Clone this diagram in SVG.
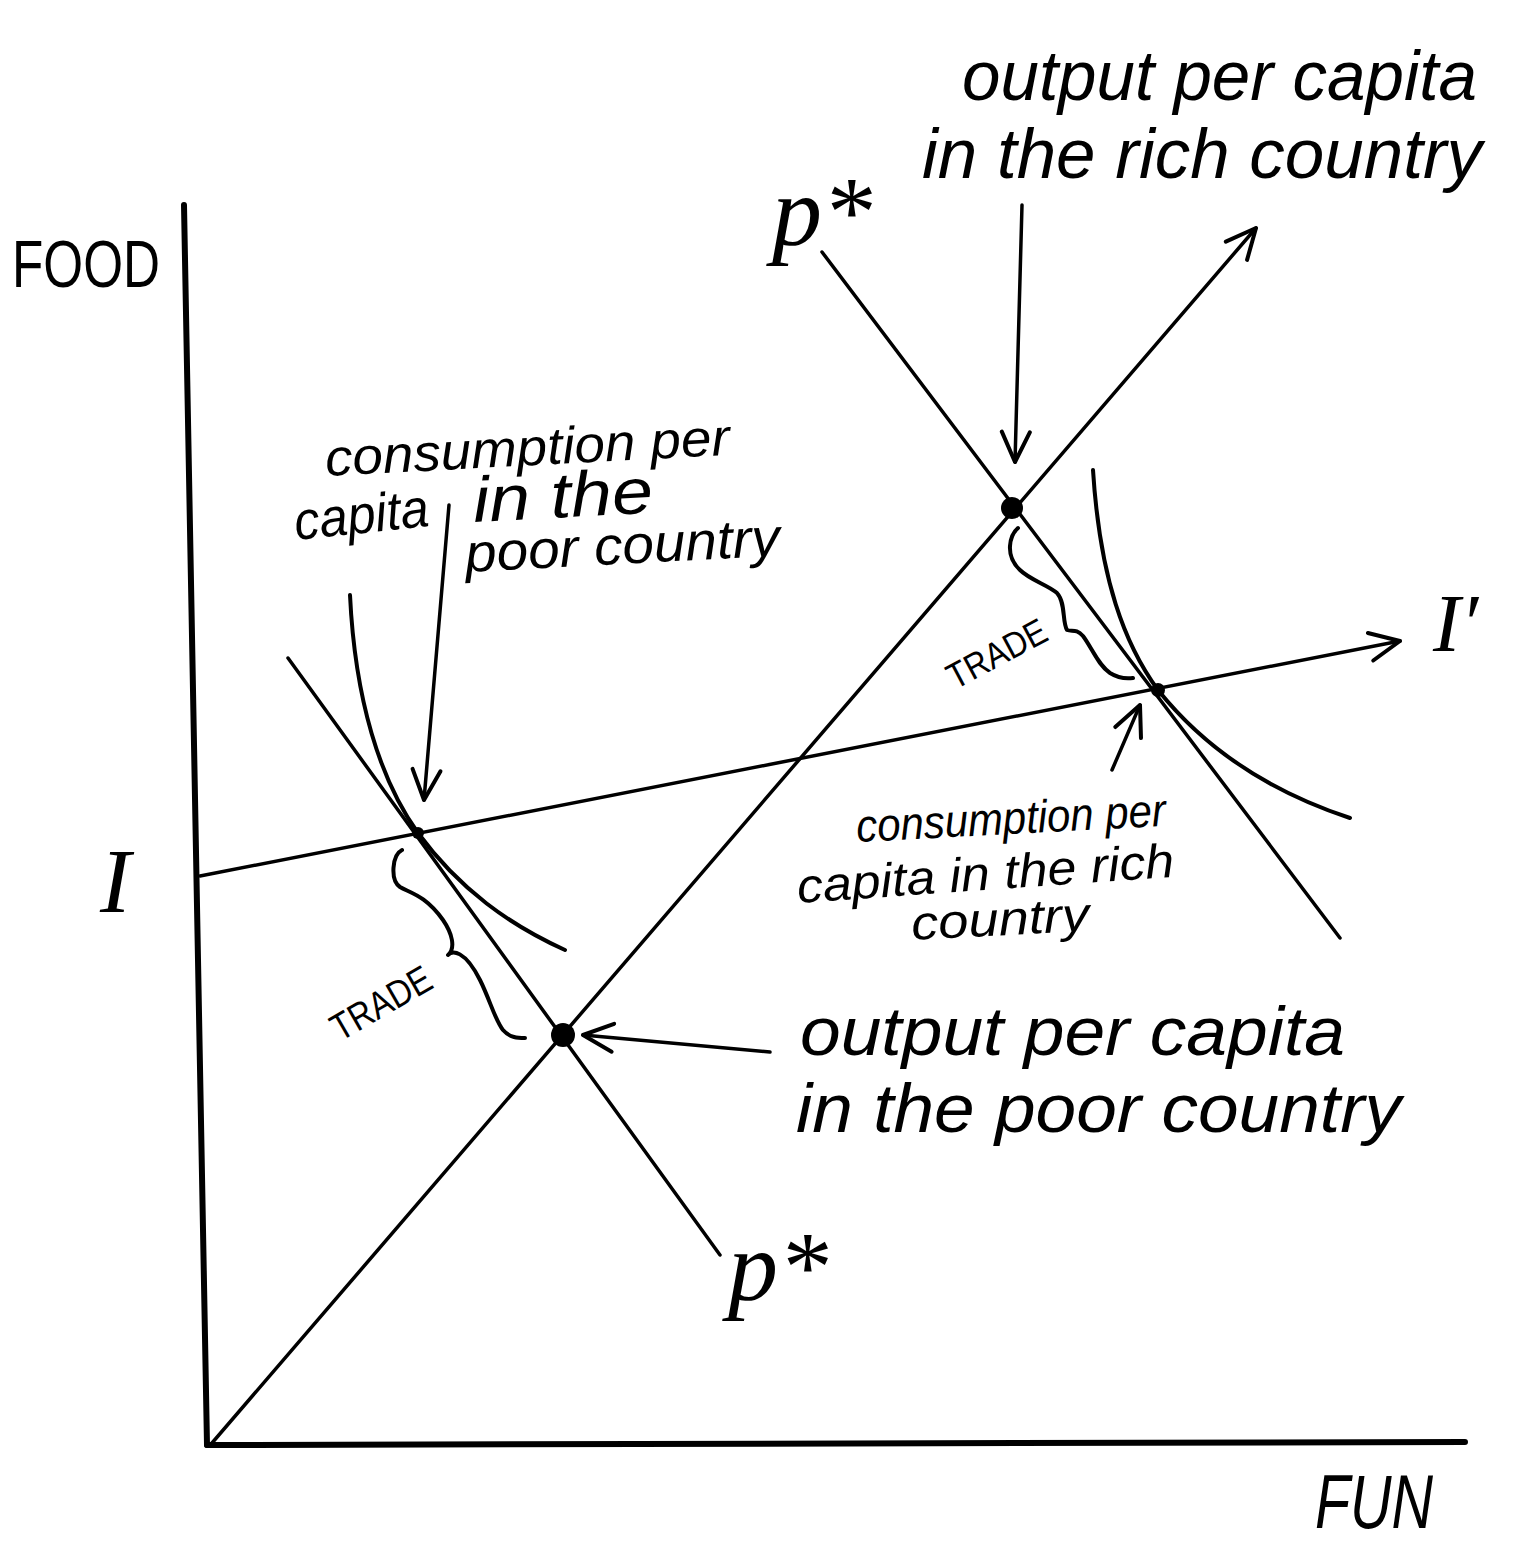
<svg xmlns="http://www.w3.org/2000/svg" width="1531" height="1546" viewBox="0 0 1531 1546">
<style>
.ln{fill:none;stroke:#000;stroke-linecap:round;stroke-linejoin:round}
.ax{stroke-width:6}
.th{stroke-width:3.5}
.cv{stroke-width:4}
.hw{font-family:"Liberation Sans","DejaVu Sans",sans-serif;font-style:italic;fill:#000}
.up{font-style:normal}
.sf{font-family:"Liberation Serif","DejaVu Serif",serif;font-style:italic;fill:#000}
</style>
<defs>
<marker id="ah" markerUnits="userSpaceOnUse" markerWidth="44" markerHeight="44" viewBox="0 0 44 44" refX="40" refY="22" orient="auto">
<path d="M10,8 L40,22 L10,36" fill="none" stroke="#000" stroke-width="4" stroke-linecap="round" stroke-linejoin="round"/>
</marker>
</defs>
<rect width="1531" height="1546" fill="#fff"/>

<g id="axes">
<path class="ln ax" d="M184,205 L207,1445"/>
<path class="ln ax" d="M207,1445 L1465,1442"/>
<text class="hw up" x="12" y="287" font-size="66" textLength="148" lengthAdjust="spacingAndGlyphs">FOOD</text>
<text class="hw" x="1315" y="1528" font-size="76" textLength="118" lengthAdjust="spacingAndGlyphs">FUN</text>
</g>

<g id="ray">
<path class="ln th" d="M212,1443 L1256,228" marker-end="url(#ah)"/>
</g>

<g id="income-line">
<path class="ln th" d="M200,876 L1400,641" marker-end="url(#ah)"/>
<text class="sf" x="100" y="912" font-size="92">I</text>
<text class="sf" x="1433" y="651" font-size="82">I′</text>
</g>

<g id="price-line-poor">
<path class="ln th" d="M288,658 L720,1255"/>
<text class="sf" x="728" y="1300" font-size="100">p*</text>
</g>

<g id="price-line-rich">
<path class="ln th" d="M822,252 L1340,938"/>
<text class="sf" x="772" y="245" font-size="100">p*</text>
</g>

<g id="indifference-poor">
<path class="ln cv" d="M350,595 C355,700 380,780 418,833 C460,890 510,925 565,950"/>
</g>

<g id="indifference-rich">
<path class="ln cv" d="M1093,470 C1100,580 1125,645 1158,690 C1210,755 1280,795 1350,818"/>
</g>

<g id="points">
<circle cx="563" cy="1035" r="12" fill="#000"/>
<circle cx="1012" cy="508" r="11" fill="#000"/>
<circle cx="418" cy="833" r="6" fill="#000"/>
<circle cx="1158" cy="690" r="7" fill="#000"/>
</g>

<g id="trade-poor">
<path class="ln cv" d="M402,850 C392,855 390,880 400,887 C410,893 425,895 443,920 C452,933 456,948 448,955 C452,950 465,950 480,980 C490,1000 495,1020 503,1030 C510,1038 518,1038 525,1038"/>
<text class="hw up" font-size="38" transform="translate(340,1042) rotate(-30)" textLength="110" lengthAdjust="spacingAndGlyphs">TRADE</text>
</g>

<g id="trade-rich">
<path class="ln cv" d="M1018,528 C1010,535 1004,555 1020,570 C1030,580 1048,585 1057,593 C1066,603 1062,622 1067,630 C1072,632 1076,628 1083,636 C1092,648 1098,665 1110,673 C1118,678 1126,679 1133,678"/>
<text class="hw up" font-size="36" transform="translate(955,690) rotate(-28)" textLength="108" lengthAdjust="spacingAndGlyphs">TRADE</text>
</g>

<g id="label-output-rich">
<text class="hw" x="962" y="100" font-size="70" textLength="515" lengthAdjust="spacingAndGlyphs">output per capita</text>
<text class="hw" x="922" y="178" font-size="70" textLength="560" lengthAdjust="spacingAndGlyphs">in the rich country</text>
</g>

<g id="label-consumption-poor">
<text class="hw" font-size="52" transform="translate(326,476) rotate(-3)" textLength="405" lengthAdjust="spacingAndGlyphs">consumption per</text>
<text class="hw" font-size="54" transform="translate(296,540) rotate(-6)" textLength="135" lengthAdjust="spacingAndGlyphs">capita</text>
<text class="hw" font-size="64" transform="translate(474,522) rotate(-3)" textLength="180" lengthAdjust="spacingAndGlyphs">in the</text>
<text class="hw" font-size="54" transform="translate(466,572) rotate(-3)" textLength="315" lengthAdjust="spacingAndGlyphs">poor country</text>
</g>

<g id="label-consumption-rich">
<text class="hw" font-size="46" transform="translate(857,842) rotate(-3)" textLength="310" lengthAdjust="spacingAndGlyphs">consumption per</text>
<text class="hw" font-size="48" transform="translate(798,903) rotate(-4)" textLength="378" lengthAdjust="spacingAndGlyphs">capita in the rich</text>
<text class="hw" font-size="48" transform="translate(912,940) rotate(-3)" textLength="178" lengthAdjust="spacingAndGlyphs">country</text>
</g>

<g id="label-output-poor">
<text class="hw" x="800" y="1055" font-size="68" textLength="545" lengthAdjust="spacingAndGlyphs">output per capita</text>
<text class="hw" x="796" y="1132" font-size="68" textLength="605" lengthAdjust="spacingAndGlyphs">in the poor country</text>
</g>

<g id="connectors">
<path class="ln th" d="M1022,205 L1015,462" marker-end="url(#ah)"/>
<path class="ln th" d="M449,505 L424,800" marker-end="url(#ah)"/>
<path class="ln th" d="M770,1052 L583,1035" marker-end="url(#ah)"/>
<path class="ln th" d="M1112,770 L1140,705" marker-end="url(#ah)"/>
</g>
</svg>
